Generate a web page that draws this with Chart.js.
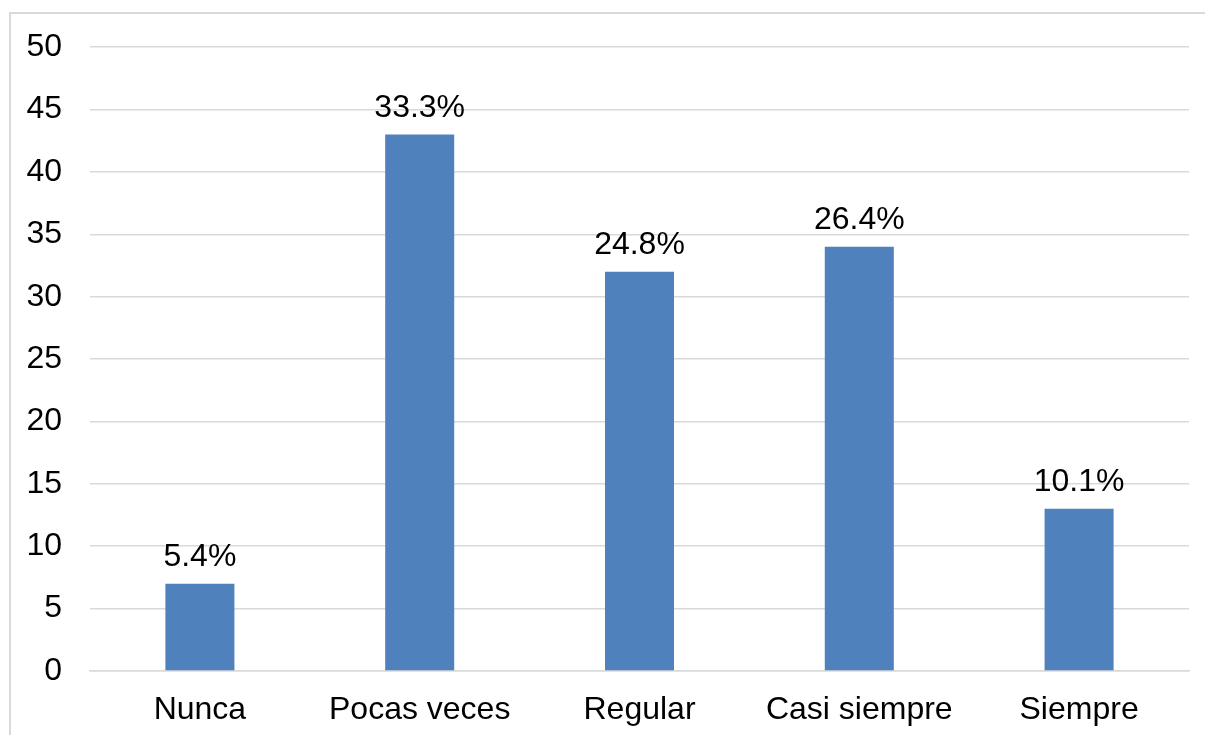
<!DOCTYPE html>
<html>
<head>
<meta charset="utf-8">
<script src="https://cdn.jsdelivr.net/npm/chart.js@4"></script>
<style>
  html,body{margin:0;padding:0;background:#fff;}
  body{width:1205px;height:735px;overflow:hidden;position:relative;}
  #marco{position:absolute;left:9px;top:12px;width:1300px;height:800px;border:2px solid #d9d9d9;box-sizing:border-box;}
  #cont{position:absolute;left:0;top:0;width:1205px;height:735px;}
</style>
</head>
<body>
<div id="marco"></div>
<div id="cont"><canvas id="myChart" width="1205" height="735"></canvas></div>
<script>
// datos del grafico
const categorias=['Nunca','Pocas veces','Regular','Casi siempre','Siempre']
const valores=[7,43,32,34,13]
const marcas_y=[0,5,10,15,20,25,30,35,40,45,50]

const total=valores.reduce((a,b)=>a+b,0)
const fuente='"Liberation Sans", Arial, sans-serif'

// etiquetas de porcentaje sobre cada barra
const etiquetas={
    id:'etiquetas',
    afterDatasetsDraw(chart){
        const ctx=chart.ctx
        const meta=chart.getDatasetMeta(0)
        ctx.save()
        ctx.font='32px '+fuente
        ctx.fillStyle='#000'
        ctx.textAlign='center'
        ctx.textBaseline='alphabetic'
        meta.data.forEach((barra,i)=>{
            const p=(valores[i]/total*100).toFixed(1)+'%'
            ctx.fillText(p,barra.x,barra.y-18)
        })
        ctx.restore()
    }
}

const ctx=document.getElementById('myChart')
new Chart(ctx,{
    type:'bar',
    data:{
        labels:categorias,
        datasets:[{
            data:valores,
            backgroundColor:'#4f81bd',
            borderWidth:0,
            categoryPercentage:1,
            barPercentage:0.314
        }]
    },
    options:{
        responsive:false,
        animation:false,
        layout:{padding:{top:44,right:16,left:0,bottom:0}},
        plugins:{legend:{display:false},tooltip:{enabled:false}},
        scales:{
            x:{
                grid:{display:false,drawTicks:false},
                border:{display:true,color:'#d9d9d9',width:1.5},
                ticks:{color:'#000',font:{family:fuente,size:32},padding:20,maxRotation:0},
                afterFit(s){s.height=64}
            },
            y:{
                min:0,max:50,
                afterBuildTicks(s){s.ticks=marcas_y.map(v=>({value:v}))},
                grid:{color:'#d9d9d9',lineWidth:1.5,drawTicks:false},
                border:{display:false},
                ticks:{color:'#000',font:{family:fuente,size:32},padding:28},
                afterFit(s){s.width=90}
            }
        }
    },
    plugins:[etiquetas]
})
</script>
</body>
</html>
